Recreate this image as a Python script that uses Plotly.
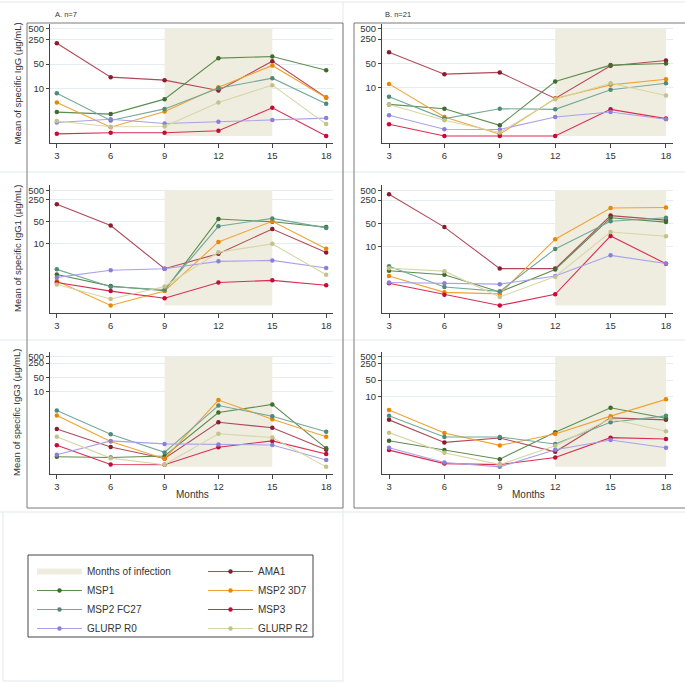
import plotly.graph_objects as go
import numpy as np

# ---------------- data ----------------
months = [3, 6, 9, 12, 15, 18]
antigens = ["AMA1", "MSP1", "MSP2 3D7", "MSP2 FC27", "MSP3", "GLURP R0", "GLURP R2"]

# rows follow the order of `antigens`
igg_n7 = [
    [195, 21.4, 17.6, 9.0, 60.7, 5.7],
    [2.19, 1.92, 5.1, 73.8, 82, 33.7],
    [4.1, 0.82, 2.28, 11.1, 45.8, 5.6],
    [7.5, 1.27, 2.7, 10.4, 20, 3.76],
    [0.53, 0.57, 0.57, 0.65, 2.9, 0.46],
    [1.11, 1.38, 1.04, 1.16, 1.30, 1.48],
    [1.22, 0.84, 0.86, 4.1, 12.7, 1.0],
]
igg_n21 = [
    [104, 24, 27, 4.7, 42, 60],
    [3.16, 2.37, 0.78, 14.6, 44, 49],
    [12.5, 1.36, 0.43, 4.7, 11.7, 17],
    [5.3, 1.22, 2.37, 2.27, 8.4, 13],
    [0.84, 0.38, 0.38, 0.38, 2.27, 1.22],
    [1.52, 0.6, 0.59, 1.36, 1.9, 1.17],
    [3.16, 1.09, 0.48, 4.5, 13, 5.75],
]
igg1_n7 = [
    [180, 38, 1.64, 4.9, 29.5, 5.3],
    [1.07, 0.46, 0.33, 61, 50, 34],
    [0.67, 0.112, 0.32, 11.5, 52, 7.0],
    [1.56, 0.44, 0.36, 36, 64, 32],
    [0.6, 0.32, 0.19, 0.6, 0.7, 0.49],
    [0.87, 1.46, 1.64, 2.8, 3.0, 1.72],
    [0.52, 0.18, 0.45, 5.4, 10, 1.05],
]
igg1_n21 = [
    [378, 38, 2.1, 2.1, 85, 62],
    [1.8, 1.37, 0.41, 1.97, 73, 54],
    [1.25, 0.4, 0.36, 16.4, 144, 150],
    [2.47, 0.58, 0.43, 8.3, 57, 73],
    [0.76, 0.34, 0.16, 0.35, 20.6, 2.95],
    [0.8, 0.75, 0.71, 1.25, 5.3, 3.0],
    [2.15, 1.76, 0.29, 1.2, 27, 20],
]
igg3_n7 = [
    [0.157, 0.0213, 0.0059, 0.335, 0.183, 0.0157],
    [0.0071, 0.0066, 0.0077, 1.0, 2.47, 0.0183],
    [0.71, 0.039, 0.0057, 4.05, 0.47, 0.066],
    [1.25, 0.089, 0.0116, 2.2, 0.66, 0.116],
    [0.0257, 0.003, 0.0029, 0.0205, 0.042, 0.0096],
    [0.0089, 0.042, 0.030, 0.0277, 0.0267, 0.0049],
    [0.066, 0.0061, 0.0029, 0.093, 0.061, 0.0023],
]
igg3_n21 = [
    [0.967, 0.103, 0.16, 0.0406, 1.18, 0.967],
    [0.122, 0.048, 0.0195, 0.281, 3.21, 1.14],
    [2.55, 0.263, 0.0766, 0.238, 1.40, 7.4],
    [1.44, 0.176, 0.176, 0.0875, 0.766, 1.44],
    [0.048, 0.0126, 0.0114, 0.023, 0.165, 0.144],
    [0.0607, 0.014, 0.0091, 0.0497, 0.131, 0.0607],
    [0.272, 0.0367, 0.0114, 0.074, 1.07, 0.311],
]

infection_n7 = [9, 15]
infection_n21 = [12, 18]
shade_top = 500

ytick_vals = [10, 50, 250, 500]
ytick_text = ["10", "50", "250", "500"]
panel_titles = ["A. n=7", "B. n=21"]
row_titles = ["Mean of specific IgG (µg/mL)", "Mean of specific IgG1 (µg/mL)",
              "Mean of specific IgG3 (µg/mL)"]
x_title = "Months"
shade_name = "Months of infection"

# ---------------- style ----------------
line_colors = {"AMA1": "#b04a58", "MSP1": "#5f8d50", "MSP2 3D7": "#f2a232",
               "MSP2 FC27": "#74a99a", "MSP3": "#da2c52", "GLURP R0": "#a9a1e8",
               "GLURP R2": "#d6d6a6"}
marker_colors = {"AMA1": "#8a1c30", "MSP1": "#3f6b30", "MSP2 3D7": "#ea8600",
                 "MSP2 FC27": "#4f8a78", "MSP3": "#c40c38", "GLURP R0": "#8a80dc",
                 "GLURP R2": "#c2c28a"}
legend_of = {"AMA1": "legend2", "MSP1": "legend", "MSP2 3D7": "legend2",
             "MSP2 FC27": "legend", "MSP3": "legend2", "GLURP R0": "legend",
             "GLURP R2": "legend2"}
shade_color = "#efede0"
FONT = "Liberation Sans, Arial, sans-serif"
W = H = 685

col_px = [(50, 333), (382, 673)]
row_px = [(24, 143), (185, 313), (352, 474)]


def px_x(p):
    return p / W


def px_y(p):
    return 1 - p / H


panels = [
    (0, 0, igg_n7, infection_n7), (0, 1, igg_n21, infection_n21),
    (1, 0, igg1_n7, infection_n7), (1, 1, igg1_n21, infection_n21),
    (2, 0, igg3_n7, infection_n7), (2, 1, igg3_n21, infection_n21),
]

fig = go.Figure()
layout = {}
annotations = []
xpad = 0.38

for i, (r, c, data, window) in enumerate(panels, start=1):
    xa = "x" if i == 1 else f"x{i}"
    ya = "y" if i == 1 else f"y{i}"
    lo = float(np.log10(np.min(data)))
    hi = float(np.log10(shade_top))
    span = hi - lo
    yr = [lo - 0.065 * span, hi + 0.045 * span]

    # shaded infection window
    ymin = float(np.min(data))
    fig.add_trace(go.Scatter(
        x=[window[0], window[1], window[1], window[0], window[0]],
        y=[ymin, ymin, shade_top, shade_top, ymin],
        fill="toself", fillcolor=shade_color, mode="none",
        name=shade_name, showlegend=(i == 1), legend="legend",
        hoverinfo="skip", xaxis=xa, yaxis=ya))

    for k, ag in enumerate(antigens):
        fig.add_trace(go.Scatter(
            x=months, y=data[k], mode="lines+markers", name=ag,
            line=dict(color=line_colors[ag], width=1.1),
            marker=dict(color=marker_colors[ag], size=4.5),
            showlegend=(i == 1), legend=legend_of[ag],
            xaxis=xa, yaxis=ya))

    xk = "xaxis" if i == 1 else f"xaxis{i}"
    yk = "yaxis" if i == 1 else f"yaxis{i}"
    cx0, cx1 = col_px[c]
    ry0, ry1 = row_px[r]
    layout[xk] = dict(domain=[px_x(cx0), px_x(cx1)], anchor=ya,
                      range=[months[0] - xpad, months[-1] + xpad],
                      tickvals=months, ticks="outside", ticklen=4,
                      tickcolor="#444", showline=True, linecolor="#444",
                      linewidth=1, showgrid=False, zeroline=False,
                      tickfont=dict(size=9.5, color="#333", family=FONT))
    layout[yk] = dict(domain=[px_y(ry1), px_y(ry0)], anchor=xa, type="log",
                      range=yr, tickvals=ytick_vals, ticktext=ytick_text,
                      ticks="outside", ticklen=3, tickcolor="#444",
                      showline=True, linecolor="#444", linewidth=1,
                      showgrid=True, gridcolor="#e6edf1", gridwidth=1,
                      zeroline=False,
                      tickfont=dict(size=9.5, color="#333", family=FONT))

# panel titles
for c, t in enumerate(panel_titles):
    annotations.append(dict(text=t, x=px_x(col_px[c][0] + 3 if c == 0 else col_px[c][0] + 1),
                            y=px_y(15), xref="paper", yref="paper",
                            xanchor="left", yanchor="middle", showarrow=False,
                            font=dict(size=7.5, color="#333", family=FONT)))
# row titles
for r, t in enumerate(row_titles):
    annotations.append(dict(text=t, x=px_x(17), y=px_y((row_px[r][0] + row_px[r][1]) / 2),
                            xref="paper", yref="paper", textangle=-90,
                            xanchor="center", yanchor="middle", showarrow=False,
                            font=dict(size=9.5, color="#333", family=FONT)))
# x titles
for c in range(2):
    annotations.append(dict(text=x_title, x=px_x((col_px[c][0] + col_px[c][1]) / 2 + 1),
                            y=px_y(494), xref="paper", yref="paper",
                            xanchor="center", yanchor="middle", showarrow=False,
                            font=dict(size=10, color="#333", family=FONT)))

faint = "#e3e9ed"
dark = "#7a7a7a"
shapes = []


def line(x0, y0, x1, y1, color, width=1):
    shapes.append(dict(type="line", xref="paper", yref="paper",
                       x0=px_x(x0), y0=px_y(y0), x1=px_x(x1), y1=px_y(y1),
                       line=dict(color=color, width=width), layer="below"))


# faint cell dividers
line(0, 2, 685, 2, faint)
line(0, 172, 685, 172, faint)
line(0, 340, 685, 340, faint)
line(0, 512, 685, 512, faint)
line(343, 2, 343, 681, faint)
line(3, 512, 3, 681, faint)
line(3, 681, 343, 681, faint)
# dark column frames
shapes.append(dict(type="rect", xref="paper", yref="paper",
                   x0=px_x(27), x1=px_x(343), y0=px_y(508), y1=px_y(23),
                   line=dict(color=dark, width=1), layer="below"))
shapes.append(dict(type="rect", xref="paper", yref="paper",
                   x0=px_x(354), x1=px_x(690), y0=px_y(508), y1=px_y(23),
                   line=dict(color=dark, width=1), layer="below"))
# legend frame
shapes.append(dict(type="rect", xref="paper", yref="paper",
                   x0=px_x(28), x1=px_x(313), y0=px_y(637), y1=px_y(555),
                   line=dict(color="#444", width=1), layer="above"))

leg_common = dict(orientation="v", yanchor="top", xanchor="left",
                  bgcolor="rgba(0,0,0,0)", borderwidth=0, itemwidth=45,
                  font=dict(size=10, color="#333", family=FONT),
                  traceorder="normal", itemclick=False, itemdoubleclick=False)

fig.update_layout(
    width=W, height=H, margin=dict(l=0, r=0, t=0, b=0),
    paper_bgcolor="white", plot_bgcolor="white",
    font=dict(family=FONT, size=10, color="#333"),
    legend=dict(x=px_x(32), y=px_y(557), **leg_common),
    legend2=dict(x=px_x(203), y=px_y(557), **leg_common),
    annotations=annotations, shapes=shapes,
    **layout,
)

fig.write_html("out.html", config={"displayModeBar": False},
               post_script="document.body.style.margin='0';")
